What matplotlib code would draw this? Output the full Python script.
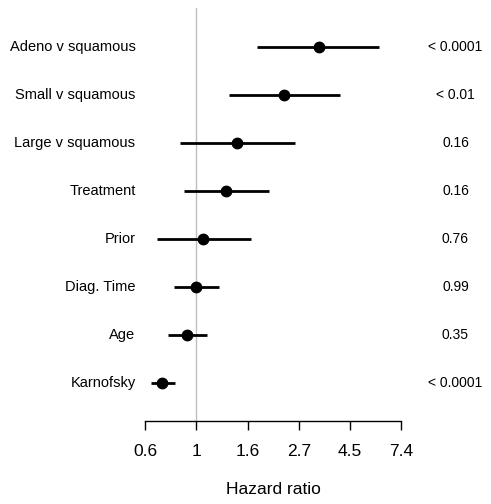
import numpy as np
import matplotlib
matplotlib.use("Agg")
import matplotlib.pyplot as plt
from matplotlib import transforms

plt.rcParams['font.family'] = ['Liberation Sans', 'DejaVu Sans']

labels = ["Adeno v squamous", "Small v squamous", "Large v squamous", "Treatment",
          "Prior", "Diag. Time", "Age", "Karnofsky"]
hr = [3.30, 2.35, 1.49, 1.34, 1.07, 1.00, 0.916, 0.717]
lower = [1.81, 1.37, 0.852, 0.886, 0.677, 0.80, 0.758, 0.642]
upper = [5.97, 4.08, 2.61, 2.03, 1.70, 1.25, 1.106, 0.807]
pvals = ["< 0.0001", "< 0.01", "0.16", "0.16", "0.76", "0.99", "0.35", "< 0.0001"]
tick_vals = [np.exp(-0.5), 1.0, np.exp(0.5), np.exp(1.0), np.exp(1.5), np.exp(2.0)]
tick_labels = ["0.6", "1", "1.6", "2.7", "4.5", "7.4"]

W, H = 491, 504
fig = plt.figure(figsize=(W / 100, H / 100), dpi=100)
left_px, right_px = 145.3, 401.0
top_px, bottom_px = 8.0, 420.7
ax = fig.add_axes([left_px / W, 1 - bottom_px / H, (right_px - left_px) / W, (bottom_px - top_px) / H])
ax.set_xscale('log')
ax.set_xlim(tick_vals[0], tick_vals[-1])
ax.set_ylim(0.215, 8.813)

n = len(labels)
ys = [n - i for i in range(n)]

ax.axvline(1.0, color='#bebebe', lw=1.0, zorder=1)
for y, h, lo, hi in zip(ys, hr, lower, upper):
    ax.plot([lo, hi], [y, y], color='black', lw=2.0, solid_capstyle='butt', zorder=2, clip_on=False)
    ax.plot([h], [y], 'o', color='black', ms=7.5, zorder=3, clip_on=False)

trans = transforms.blended_transform_factory(fig.transFigure, ax.transData)
for y, lab, p in zip(ys, labels, pvals):
    ax.text(135.5 / W, y, lab, transform=trans, fontsize=10.5, ha='right', va='center')
    ax.text(455.5 / W, y, p, transform=trans, fontsize=10, ha='center', va='center')

for sp in ['top', 'right', 'left']:
    ax.spines[sp].set_visible(False)
ax.spines['bottom'].set_linewidth(1.0)
ax.set_yticks([])
ax.set_xticks(tick_vals)
ax.set_xticklabels(tick_labels, fontsize=12.5)
ax.minorticks_off()
ax.tick_params(axis='x', length=6.5, width=1.0, pad=10)
ax.set_xlabel("Hazard ratio", fontsize=12.5, labelpad=17)

fig.savefig("out.png", dpi=100)
